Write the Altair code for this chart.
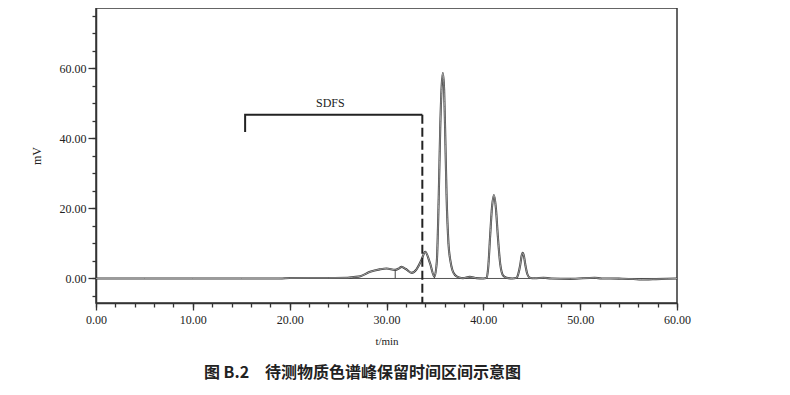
import altair as alt
import pandas as pd

# chromatogram trace (t in min, signal in mV)
t_vals = [0.0, 5.0, 10.0, 15.0, 19.0, 20.0, 22.0, 24.0, 26.0, 26.6, 27.3, 28.3, 29.3, 30.0,
          30.9, 31.3, 31.55, 32.0, 32.6, 33.1, 33.6, 34.0, 34.5, 34.95, 35.2, 35.4, 35.55,
          35.7, 35.82, 35.95, 36.05, 36.2, 36.4, 36.6, 36.8, 37.1, 37.5, 37.9, 38.6, 39.3,
          40.0, 40.35, 40.5, 40.7, 40.9, 41.1, 41.3, 41.5, 41.75, 42.05, 42.4, 43.0, 43.45,
          43.6, 43.8, 43.95, 44.06, 44.2, 44.35, 44.55, 44.8, 45.3, 46.2, 47.0, 49.0, 51.5,
          52.2, 54.0, 55.5, 56.3, 57.5, 59.0, 60.0]
mv_vals = [0.0, 0.0, 0.0, 0.0, 0.0, 0.12, 0.15, 0.15, 0.2, 0.4, 0.65, 1.9, 2.6, 2.85,
           2.45, 2.9, 3.3, 2.7, 1.6, 2.6, 5.2, 7.6, 4.3, 0.5, 5.0, 24.0, 43.0,
           55.0, 58.6, 54.0, 43.0, 24.0, 10.0, 5.0, 2.4, 0.9, 0.3, 0.1, 0.45, 0.1,
           0.0, 0.2, 3.0, 12.0, 20.5, 23.8, 20.0, 12.0, 4.0, 0.8, 0.2, 0.0, 0.2,
           1.2, 3.7, 6.4, 7.3, 6.3, 3.7, 1.2, 0.2, 0.05, 0.2, 0.0, -0.1, 0.2,
           0.0, -0.05, -0.15, -0.3, -0.2, -0.1, 0.0]

# integration drop lines
drop_t = [30.9, 34.95]
drop_mv = [2.45, 0.5]

# SDFS interval bracket
bracket_t = [15.4, 15.4, 33.7]
bracket_mv = [41.8, 46.7, 46.7]
bracket_order = [0, 1, 2]
dash_t = [33.7]
dash_top = [46.7]
dash_bottom = [-7.0]
label_text = ["SDFS"]
label_t = [24.2]
label_mv = [50.2]

# baseline
base_t0 = [0.0]
base_t1 = [60.0]
base_mv = [0.0]

# axis ticks
x_major = [0, 10, 20, 30, 40, 50, 60]
x_minor = [0, 2, 4, 6, 8, 10, 12, 14, 16, 18, 20, 22, 24, 26, 28, 30, 32, 34, 36, 38,
           40, 42, 44, 46, 48, 50, 52, 54, 56, 58, 60]
y_major = [0, 20, 40, 60]
y_minor = [-5, 0, 5, 10, 15, 20, 25, 30, 35, 40, 45, 50, 55, 60, 65, 70, 75]

trace = pd.DataFrame({"t": t_vals, "mv": mv_vals})
drops = pd.DataFrame({"t": drop_t, "mv": drop_mv, "zero": [0.0] * len(drop_t)})
bracket = pd.DataFrame({"t": bracket_t, "mv": bracket_mv, "o": bracket_order})
dash = pd.DataFrame({"t": dash_t, "top": dash_top, "bottom": dash_bottom})
label = pd.DataFrame({"text": label_text, "t": label_t, "mv": label_mv})
base = pd.DataFrame({"t0": base_t0, "t1": base_t1, "mv": base_mv})

xs = alt.Scale(domain=[0, 60], nice=False, zero=False)
ys = alt.Scale(domain=[-7, 77.2], nice=False, zero=False)
SERIF = "Liberation Serif"
INK = "#333333"

x_major_axis = alt.Axis(values=x_major, format=".2f", orient="bottom", tickSize=7, tickWidth=1.3,
                        tickColor=INK, labelPadding=4, labelFont=SERIF, labelFontSize=12,
                        labelColor="#222222", labelFlush=False, domainColor=INK, domainWidth=1.5,
                        grid=False, title="t/min", titleFont=SERIF, titleFontSize=11,
                        titleFontWeight="normal", titleColor="#222222", titlePadding=10)
x_minor_axis = alt.Axis(values=x_minor, orient="bottom", tickSize=4, tickWidth=1.3, tickColor=INK,
                        labels=False, domain=False, grid=False, title=None)
y_major_axis = alt.Axis(values=y_major, format=".2f", orient="left", tickSize=8, tickWidth=1.3,
                        tickColor=INK, labelPadding=2, labelFont=SERIF, labelFontSize=12,
                        labelColor="#222222", domainColor=INK, domainWidth=1.5, grid=False,
                        title="mV", titleFont=SERIF, titleFontSize=12, titleFontWeight="normal",
                        titleColor="#222222", titlePadding=16)
y_minor_axis = alt.Axis(values=y_minor, orient="left", tickSize=4, tickWidth=1.3, tickColor=INK,
                        labels=False, domain=False, grid=False, title=None)

baseline = alt.Chart(base).mark_rule(color="#555555", strokeWidth=1).encode(
    x=alt.X("t0:Q", scale=xs, axis=x_minor_axis),
    x2="t1:Q",
    y=alt.Y("mv:Q", scale=ys, axis=y_minor_axis),
)

trace_dark = alt.Chart(trace).mark_line(color="#3c3c3c", strokeWidth=2.1, interpolate="monotone").encode(
    x=alt.X("t:Q", scale=xs, axis=x_major_axis),
    y=alt.Y("mv:Q", scale=ys, axis=y_major_axis),
)
trace_light = alt.Chart(trace).mark_line(color="#b8b8b8", strokeWidth=0.8, interpolate="monotone").encode(
    x=alt.X("t:Q", scale=xs, axis=None),
    y=alt.Y("mv:Q", scale=ys, axis=None),
)

drop_rules = alt.Chart(drops).mark_rule(color="#444444", strokeWidth=1).encode(
    x=alt.X("t:Q", scale=xs, axis=None),
    y=alt.Y("mv:Q", scale=ys, axis=None),
    y2="zero:Q",
)

bracket_line = alt.Chart(bracket).mark_line(color="#222222", strokeWidth=2).encode(
    x=alt.X("t:Q", scale=xs, axis=None),
    y=alt.Y("mv:Q", scale=ys, axis=None),
    order="o:Q",
)

dash_rule = alt.Chart(dash).mark_rule(color="#222222", strokeWidth=2, strokeDash=[9, 4]).encode(
    x=alt.X("t:Q", scale=xs, axis=None),
    y=alt.Y("top:Q", scale=ys, axis=None),
    y2="bottom:Q",
)

label_mark = alt.Chart(label).mark_text(font=SERIF, fontSize=12, color="#222222",
                                        baseline="middle", align="center").encode(
    x=alt.X("t:Q", scale=xs, axis=None),
    y=alt.Y("mv:Q", scale=ys, axis=None),
    text="text:N",
)

chart = alt.layer(
    baseline, trace_dark, trace_light, drop_rules, bracket_line, dash_rule, label_mark
).resolve_axis(x="independent", y="independent").resolve_scale(x="shared", y="shared").properties(
    width=581,
    height=295,
    padding={"left": 88, "top": 0, "right": 20, "bottom": 80},
    autosize=alt.AutoSizeParams(type="none"),
    title=alt.TitleParams(
        text="图 B.2　待测物质色谱峰保留时间区间示意图",
        orient="bottom",
        anchor="middle",
        font="Noto Sans CJK SC",
        fontSize=16,
        fontWeight="bold",
        color="#222222",
        offset=19,
        dx=-24,
    ),
).configure_view(stroke=INK, strokeWidth=1.5)

chart.save("out.html", embed_options={"renderer": "svg", "actions": False})
